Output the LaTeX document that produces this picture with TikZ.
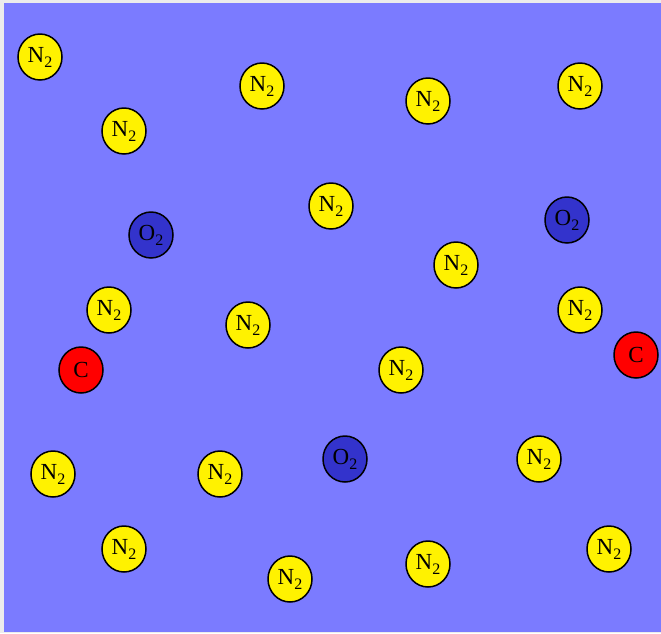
\documentclass[tikz,border=0pt]{standalone}
\usepackage{fontspec}
\setmainfont{Liberation Serif}
\usepackage{xcolor}
\definecolor{airblue}{RGB}{123,123,255}
\definecolor{oxblue}{RGB}{51,51,204}
\definecolor{framegray}{RGB}{236,236,236}
\tikzset{
  mol/.style={draw=black,line width=1.5pt,ellipse,minimum width=44pt,minimum height=46pt,inner sep=0pt,font=\fontsize{23}{25}\selectfont},
  nitro/.style={mol,fill=yellow},
  oxy/.style={mol,fill=oxblue},
  carb/.style={mol,fill=red}
}
\usetikzlibrary{shapes.geometric}
\newcommand{\subtwo}{\raisebox{-5pt}{\fontsize{16}{16}\selectfont 2}}
\newcommand{\molN}{N\subtwo}
\newcommand{\molO}{O\subtwo}
\begin{document}
\begin{tikzpicture}[x=1pt,y=-1pt]
\useasboundingbox (0,0) rectangle (661,633);
\fill[framegray] (0,0) rectangle (661,633);
\fill[airblue] (4,3) rectangle (661,632);
% nitrogen
\node[nitro] (n1) at (40,57) {\molN};
\node[nitro] (n2) at (262,86) {\molN};
\node[nitro] (n3) at (428,101) {\molN};
\node[nitro] (n4) at (580,86) {\molN};
\node[nitro] (n5) at (124,131) {\molN};
\node[nitro] (n6) at (331,206) {\molN};
\node[nitro] (n7) at (456,265) {\molN};
\node[nitro] (n8) at (109,310) {\molN};
\node[nitro] (n9) at (248,325) {\molN};
\node[nitro] (n10) at (580,310) {\molN};
\node[nitro] (n11) at (401,370) {\molN};
\node[nitro] (n12) at (53,474) {\molN};
\node[nitro] (n13) at (220,474) {\molN};
\node[nitro] (n14) at (539,459) {\molN};
\node[nitro] (n15) at (124,549) {\molN};
\node[nitro] (n16) at (290,579) {\molN};
\node[nitro] (n17) at (428,564) {\molN};
\node[nitro] (n18) at (609,549) {\molN};
% oxygen
\node[oxy] (o1) at (151,235) {\molO};
\node[oxy] (o2) at (567,220) {\molO};
\node[oxy] (o3) at (345,459) {\molO};
% carbon
\node[carb] (c1) at (81,370) {C};
\node[carb] (c2) at (636,355) {C};
\end{tikzpicture}
\end{document}
